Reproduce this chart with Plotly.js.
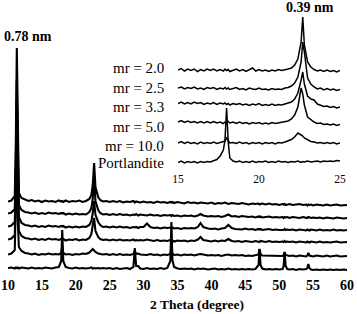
<!DOCTYPE html>
<html>
<head>
<meta charset="utf-8">
<script src="https://cdn.plot.ly/plotly-3.0.1.min.js"></script>
<style>
html,body{margin:0;padding:0;background:#fff;}
#chart{width:357px;height:314px;}
</style>
</head>
<body>
<div id="chart"></div>
<script>
// ---------- DATA ----------
var sampleNames = ["mr = 2.0", "mr = 2.5", "mr = 3.3", "mr = 5.0", "mr = 10.0", "Portlandite"];

// main pattern, 2 theta (degree)
var twoTheta = [
 10.0, 10.5, 11.0, 11.15, 11.3, 11.45, 11.6, 12.0, 12.5, 13.0,
 13.5, 14.0, 14.5, 15.0, 15.5, 16.0, 16.5, 17.0, 17.5, 17.85,
 18.0, 18.15, 18.5, 19.0, 19.5, 20.0, 20.5, 21.0, 21.5, 22.0,
 22.3, 22.5, 22.7, 22.9, 23.3, 23.6, 24.0, 24.5, 25.0, 25.5,
 26.0, 26.5, 27.0, 27.5, 28.0, 28.5, 28.7, 28.9, 29.2, 29.5,
 30.0, 30.5, 31.0, 31.5, 32.0, 32.5, 33.0, 33.5, 33.95, 34.1,
 34.25, 34.5, 35.0, 35.5, 36.0, 36.5, 37.0, 37.5, 38.0, 38.4,
 38.8, 39.5, 40.0, 40.5, 41.0, 41.5, 42.0, 42.5, 43.0, 43.5,
 44.0, 44.5, 45.0, 45.5, 46.0, 46.5, 46.95, 47.1, 47.25, 47.5,
 48.0, 48.5, 49.0, 49.5, 50.0, 50.5, 50.65, 50.8, 50.95, 51.2,
 51.5, 52.0, 52.5, 53.0, 53.5, 54.0, 54.15, 54.3, 54.45, 54.7,
 55.0, 55.5, 56.0, 56.5, 57.0, 57.5, 58.0, 58.5, 59.0, 59.5,
 60.0
];

// stacked intensities (a.u.), main pattern
var mr20 = [
 73.5, 74.5, 79, 130, 227, 115, 82, 77, 75.5, 74,
 75, 73.5, 74.5, 73, 74.5, 73.5, 74, 73, 74.5, 73.5,
 74, 73, 74.5, 73, 74, 73.5, 74.5, 73, 74, 76,
 80, 90, 112, 88, 78, 75, 73.5, 74, 73, 74,
 73, 74, 72.5, 73.5, 73, 74, 72.5, 73.5, 73, 72.5,
 73.5, 72.5, 73, 72, 73.5, 72.5, 73, 72, 73, 72.5,
 73, 72, 73, 72.5, 71.5, 73, 72, 72.5, 71.5, 72.5,
 72, 71.5, 72.5, 71, 72, 71.5, 72.5, 71, 72, 71.5,
 71, 72, 71.5, 70.5, 71.5, 71, 71.5, 70.5, 71, 71.5,
 70.5, 71.5, 70.5, 71, 70, 71, 70.5, 71, 70, 70.5,
 71, 70, 70.5, 71, 70, 70.5, 69.5, 70.5, 70, 70.5,
 69.5, 70.5, 70, 69.5, 70.5, 69.5, 70, 70.5, 69.5, 70,
 70
];
var mr25 = [
 61.5, 62.5, 66, 110, 195, 100, 70, 65, 63, 62.5,
 61.5, 62.5, 61, 62, 61, 62.5, 61.5, 62, 61, 62,
 61.5, 62, 60.5, 61.5, 60.5, 61.5, 60.5, 61, 60.5, 63,
 67, 76, 96, 74, 65, 62, 60.5, 61, 60, 61,
 60, 61, 60, 60.5, 59.5, 60.5, 60, 61, 59.5, 60.5,
 60, 59.5, 60.5, 59.5, 60, 59, 60, 59.5, 60, 59,
 60, 59, 59.5, 58.5, 59.5, 59, 59.5, 58.5, 59.5, 61,
 59.5, 58.5, 59, 58.5, 59, 58, 59, 60.5, 58.5, 59,
 58, 59, 58.5, 58, 58.5, 57.5, 58.5, 58, 58.5, 57.5,
 58, 58.5, 57.5, 58, 57.5, 58, 57, 58, 57.5, 58,
 57, 58, 57.5, 57, 58, 57.5, 57, 58, 57.5, 57,
 57.5, 57, 57.5, 56.5, 57.5, 57, 56.5, 57.5, 57, 56.5,
 57
];
var mr33 = [
 48.5, 49.5, 53, 95, 175, 90, 58, 52, 50, 49.5,
 48.5, 49.5, 48, 49, 48, 49.5, 48.5, 49, 48, 49,
 48.5, 49, 47.5, 48.5, 47.5, 48.5, 47.5, 48.5, 48, 50,
 54, 62, 74, 60, 53, 50, 48, 48.5, 47.5, 48.5,
 47.5, 48.5, 47.5, 48, 47, 48, 47.5, 48, 47, 48,
 48, 51.5, 48, 47, 47.5, 46.5, 47.5, 47, 47.5, 46.5,
 47.5, 46.5, 47, 46, 47, 46.5, 47, 46.5, 48, 52,
 48, 46.5, 46, 46.5, 45.5, 46.5, 47, 50, 47, 46,
 46, 45.5, 46.5, 45.5, 46, 45, 46, 45.5, 46, 45,
 45.5, 46, 45, 45.5, 45, 45.5, 45, 46, 45, 45.5,
 45, 45.5, 44.5, 45.5, 45, 44.5, 45.5, 45, 44.5, 45.5,
 45, 44.5, 45.5, 44.5, 45, 44.5, 45.5, 44.5, 45, 44.5,
 45
];
var mr50 = [
 35.5, 36.5, 40, 80, 150, 75, 44, 39, 37, 36.5,
 35.5, 36.5, 35, 36, 35, 36.5, 35.5, 36, 35, 36,
 35.5, 36, 34.5, 35.5, 35, 36, 34.5, 35.5, 35, 37,
 41, 50, 57, 44, 38, 36, 35, 35.5, 34.5, 35.5,
 34.5, 35.5, 34.5, 35, 34.5, 35.5, 34.5, 35, 34.5, 35,
 34.5, 35.5, 34.5, 34, 35, 34, 34.5, 34, 35, 34,
 34.5, 33.5, 34.5, 34, 34.5, 33.5, 34.5, 34, 35.5, 38,
 35, 34, 33.5, 34.5, 33.5, 34.5, 34, 36, 34, 33.5,
 34, 33, 34, 33.5, 33, 34, 33.5, 33, 34, 33.5,
 33, 34, 33, 33.5, 33, 33.5, 33, 34, 33, 33.5,
 33, 33.5, 32.5, 33.5, 33, 32.5, 33.5, 33, 32.5, 33.5,
 33, 32.5, 33.5, 32.5, 33, 32.5, 33, 33.5, 32.5, 33,
 33
];
var mr100 = [
 20.5, 21.5, 25, 60, 120, 55, 28, 24, 22, 21.5,
 20.5, 21.5, 20, 21, 20.5, 21.5, 20.5, 21, 20.5, 22,
 28, 22, 20.5, 21, 20, 21, 20.5, 21.5, 21, 22.5,
 25, 26, 24.5, 23, 21.5, 21, 20.5, 21, 20, 21,
 20, 21, 20, 20.5, 20, 21, 24, 21, 21.5, 20.5,
 20.5, 20, 21, 20, 20.5, 19.5, 20.5, 20, 21, 27,
 21, 20, 20.5, 19.5, 20.5, 20, 20.5, 19.5, 20.5, 21,
 20.5, 19.5, 20, 19.5, 20, 19, 20, 20.5, 19.5, 20,
 19.5, 20, 19, 19.5, 19, 20, 20.5, 26, 21, 19.5,
 19.5, 19, 19.5, 19, 19.5, 19, 20, 23, 20, 19.5,
 19, 19.5, 18.5, 19.5, 19, 18.5, 19.5, 22, 19.5, 19,
 18.5, 19.5, 19, 18.5, 19.5, 18.5, 19, 19.5, 18.5, 19,
 19
];
var portlandite = [
 7, 7.5, 6.5, 7.5, 7, 7.5, 6.5, 7.5, 7, 6.5,
 7.5, 6.5, 7, 6.5, 7.5, 7, 6.5, 7.5, 8, 14,
 45, 14, 8, 7, 6.5, 7.5, 6.5, 7, 6.5, 7,
 7.5, 6.5, 7, 6.5, 7, 6.5, 7, 6.5, 7, 6,
 7, 6, 6.5, 7, 6, 8, 27, 9, 9, 6.5,
 6, 7, 6, 6.5, 6, 7, 6, 7, 14, 53,
 15, 8, 6.5, 6, 6.5, 6, 6.5, 5.5, 6.5, 6,
 6.5, 5.5, 6, 6.5, 5.5, 6, 5.5, 6.5, 5.5, 6,
 5.5, 6, 5.5, 6, 5.5, 6, 10, 26, 10, 6.5,
 5.5, 6, 5.5, 6, 5.5, 6, 9, 23, 9, 6,
 5.5, 6, 5, 6, 5.5, 6, 7, 11, 7, 5.5,
 5, 5.5, 5, 5.5, 5, 5.5, 5, 5.5, 5, 5.5,
 5
];

// inset, 2 theta 15-25 (degree)
var insetTheta = [
 15.0, 15.2, 15.4, 15.6, 15.8, 16.0, 16.2, 16.4, 16.6, 16.8,
 17.0, 17.2, 17.4, 17.6, 17.8, 17.9, 18.0, 18.1, 18.2, 18.4,
 18.6, 18.8, 19.0, 19.2, 19.4, 19.6, 19.8, 20.0, 20.2, 20.4,
 20.6, 20.8, 21.0, 21.2, 21.4, 21.6, 21.8, 22.0, 22.2, 22.4,
 22.6, 22.7, 22.8, 23.0, 23.2, 23.4, 23.6, 23.8, 24.0, 24.2,
 24.4, 24.6, 24.8, 25.0
];
var insetMr20 = [
 100, 101.5, 99, 101, 99.5, 101, 98.5, 100.5, 99, 101,
 99.5, 101, 99, 100.5, 99, 101, 99.5, 100.5, 98.5, 100,
 101, 99, 100.5, 98.5, 100, 102, 99, 100.5, 99, 100,
 98.5, 100, 99, 100.5, 99.5, 100, 101, 102, 105, 111,
 128, 153, 125, 108, 103, 100.5, 99, 100, 98.5, 100,
 98.5, 99.5, 98, 99.5
];
var insetMr25 = [
 82, 83, 81, 82.5, 81.5, 83, 81, 82, 80.5, 82.5,
 81.5, 82.5, 80.5, 82, 81, 82.5, 81, 82, 80.5, 81.5,
 82.5, 80.5, 81.5, 80, 82, 81, 80.5, 82, 80.5, 81,
 80, 81.5, 80.5, 81, 80.5, 82, 82.5, 84, 87, 93,
 108, 128, 118, 92, 86, 83, 81, 82, 80, 81.5,
 80, 81, 79.5, 80.5
];
var insetMr33 = [
 66.5, 68, 66, 67.5, 66, 68, 66.5, 67.5, 65.5, 67,
 66, 67.5, 65.5, 67, 66, 67, 65.5, 66.5, 65, 66.5,
 65.5, 66.5, 65, 66, 64.5, 66, 65, 66.5, 64.5, 65.5,
 64.5, 66, 64.5, 65.5, 65, 66, 66.5, 68, 71, 77,
 90, 98, 86, 74, 71, 70, 66, 64.5, 63.5, 64,
 62.5, 63.5, 62, 63
];
var insetMr50 = [
 48, 49.5, 47.5, 49, 47.5, 48.5, 47, 48.5, 47, 48.5,
 47, 48.5, 47, 48, 46.5, 48, 47.5, 48.5, 47, 48,
 46.5, 48, 46.5, 47.5, 46, 47.5, 46.5, 47.5, 46, 47,
 46, 47.5, 46.5, 47, 47.5, 48, 49, 51, 55, 63,
 82, 76, 65, 53, 50, 48, 46.5, 47, 45.5, 46,
 45, 46, 44.5, 45.5
];
var insetMr100 = [
 27, 28.5, 26.5, 28, 26.5, 27.5, 26, 28, 26.5, 27.5,
 26.5, 28, 26.5, 27.5, 28, 29, 32, 29, 27, 27.5,
 26.5, 28, 26.5, 27.5, 26, 27.5, 26.5, 27.5, 26, 27.5,
 26.5, 27.5, 26, 27.5, 27, 28, 29, 30.5, 33, 37,
 35, 34, 32, 30, 28.5, 28, 27, 27.5, 26.5, 27.5,
 26.5, 27.5, 26, 27
];
var insetPortlandite = [
 7.5, 9, 7, 8.5, 7.5, 8.5, 7, 8.5, 7.5, 8.5,
 8, 9.5, 10.5, 14, 20, 30, 62, 28, 12, 9,
 8, 9, 7.5, 8.5, 7.5, 9, 7.5, 8.5, 8, 9,
 7.5, 8.5, 7.5, 9, 8, 8.5, 7.5, 8.5, 8, 9,
 7.5, 8.5, 8, 9, 8, 8.5, 9, 8, 9, 8.5,
 9, 8.5, 9.5, 9
];

var mainTicks = [10, 15, 20, 25, 30, 35, 40, 45, 50, 55, 60];
var insetTicks = [15, 20, 25];
var peakLabels = ["0.78 nm", "0.39 nm"];
var axisTitle = "2 Theta (degree)";

// ---------- CHART ----------
var W = 357, H = 314, B = 39, PH = H - B;
function px(x){ return x / W; }
function py(y){ return (PH - y) / PH; }

var mainSeries = [mr20, mr25, mr33, mr50, mr100, portlandite];
var insetSeries = [insetMr20, insetMr25, insetMr33, insetMr50, insetMr100, insetPortlandite];

var traces = [];
mainSeries.forEach(function(s, i){
  traces.push({type:'scatter', mode:'lines', x: twoTheta, y: s, name: sampleNames[i],
    xaxis:'x', yaxis:'y', line:{color:'#000', width:2.1}, hoverinfo:'skip'});
});
insetSeries.forEach(function(s, i){
  traces.push({type:'scatter', mode:'lines', x: insetTheta, y: s, name: sampleNames[i],
    xaxis:'x2', yaxis:'y2', line:{color:'#000', width:1.5}, hoverinfo:'skip'});
});

var serif = '"Liberation Serif", "Times New Roman", Times, serif';
var labelY = [68, 88, 107, 127, 146, 163];
var annotations = sampleNames.map(function(n, i){
  return {text:n, xref:'paper', yref:'paper', x:px(166), y:py(labelY[i]),
    xanchor:'right', yanchor:'middle', showarrow:false,
    font:{family:serif, size:15, color:'#000'}};
});
annotations.push({text:peakLabels[0], xref:'paper', yref:'paper', x:px(28.5), y:py(37),
  xanchor:'center', yanchor:'middle', showarrow:false,
  font:{family:serif, size:14, color:'#000', weight:'bold'}});
annotations.push({text:peakLabels[1], xref:'paper', yref:'paper', x:px(310), y:py(8),
  xanchor:'center', yanchor:'middle', showarrow:false,
  font:{family:serif, size:14, color:'#000', weight:'bold'}});
annotations.push({text:axisTitle, xref:'paper', yref:'paper', x:px(196.5), y:py(304),
  xanchor:'center', yanchor:'middle', showarrow:false,
  font:{family:serif, size:13.5, color:'#000', weight:'bold'}});

var layout = {
  width: W, height: H,
  margin:{l:0, r:0, t:0, b:B, pad:0},
  paper_bgcolor:'#fff', plot_bgcolor:'rgba(0,0,0,0)',
  showlegend:false,
  font:{family:serif, color:'#000'},
  xaxis:{domain:[px(8), px(347)], range:[10,60], tickvals:mainTicks, ticks:'',
    showgrid:false, zeroline:false, showline:false, fixedrange:true,
    tickfont:{family:serif, size:14, color:'#000', weight:'bold'}},
  yaxis:{domain:[0,1], range:[0,PH], visible:false, fixedrange:true},
  xaxis2:{anchor:'y2', domain:[px(178), px(340)], range:[15,25], tickvals:insetTicks, ticks:'',
    showgrid:false, zeroline:false, showline:false, fixedrange:true,
    tickfont:{family:serif, size:11.5, color:'#000'}},
  yaxis2:{anchor:'x2', domain:[py(170), 1], range:[0,170], visible:false, fixedrange:true},
  annotations: annotations
};

Plotly.newPlot('chart', traces, layout, {staticPlot:true, displayModeBar:false});
</script>
</body>
</html>
